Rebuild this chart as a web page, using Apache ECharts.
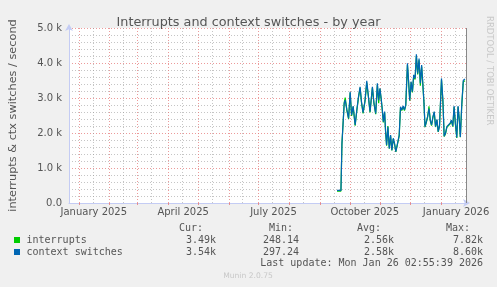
<!DOCTYPE html>
<html><head><meta charset="utf-8">
<script src="https://cdn.jsdelivr.net/npm/echarts@6/dist/echarts.min.js"></script>
<style>html,body{margin:0;padding:0;background:#F0F0F0;}#c{width:497px;height:287px;}</style>
</head><body><div id="c"></div>
<script>
// ---- data ----
const startDate = '2024-12-22';
const endDate = '2026-01-26';
const monthStarts = ['2025-01-01','2025-02-01','2025-03-01','2025-04-01','2025-05-01','2025-06-01','2025-07-01','2025-08-01','2025-09-01','2025-10-01','2025-11-01','2025-12-01','2026-01-01'];
const labelMonths = ['2025-01-01','2025-04-01','2025-07-01','2025-10-01','2026-01-01'];
const tickLabels = ['January 2025','April 2025','July 2025','October 2025','January 2026'];
const yMax = 5000;
const yStep = 1000;
// days since startDate
const days = [270,274,275,277.3,278.3,280,281.7,283.3,284.7,286.3,288.3,290,291.7,293.3,294.7,296.3,298.3,300,301.7,303.3,305.7,307.3,309,310.7,312,313.3,314.7,315.7,316.7,318,319,320,321.3,322.7,324,325.3,326.7,328,329.3,331.3,332.7,334,335.3,336.7,338,339.3,341,342.3,343.3,344.7,346,347.3,348.7,350,351.3,352.7,354,355.3,356.7,357.7,358.7,360,361.3,362.7,364,365.3,366.7,368,369.3,370.7,372,373.3,375.3,376.7,378,379.3,380.7,382.7,384,385.3,386.7,388,389.3,390.7,392,393.3,394.3,395.7,397.3,399];
const ctxSwitches = [360,360,1700,2850,2940,2660,2420,3180,2510,2770,2230,2660,3040,3320,2890,2580,2940,3490,3040,2610,3320,2850,2560,3420,2940,3280,2940,2660,2320,2610,2040,1660,2180,1560,1940,1510,1850,1700,1470,1470,1940,2750,2660,2770,2660,2800,3990,3420,2940,3470,3180,3660,3560,4250,3700,4130,3420,3940,3320,2850,2180,2320,2470,2700,2370,2230,2470,2610,2180,2390,2040,2200,3560,2940,1910,1990,2180,2230,2280,2370,2200,2770,2280,1870,2770,2370,1890,2800,3510,3540];
const interrupts = [340,340,1680,2870,3010,2640,2400,3150,2490,2750,2210,2640,3020,3290,2870,2560,2920,3440,3020,2590,3290,2830,2540,3380,2850,3260,2920,2640,2300,2590,2020,1640,2200,1550,1920,1500,1830,1690,1460,1460,1920,2730,2640,2750,2640,2780,3940,3400,2920,3440,3160,3620,3530,4200,3670,4080,3350,3900,3290,2830,2170,2300,2450,2760,2350,2210,2450,2590,2170,2370,2030,2190,3520,2920,1900,1970,2160,2210,2260,2350,2180,2740,2260,1860,2740,2350,1880,2770,3470,3490];
const seriesNames = ['interrupts','context switches'];
const seriesColors = ['#00CC00','#0066B3'];
const statHeaders = ['Cur:','Min:','Avg:','Max:'];
const curVals = ['3.49k','3.54k'];
const minVals = ['248.14','297.24'];
const avgVals = ['2.56k','2.58k'];
const maxVals = ['7.82k','8.60k'];
const lastUpdate = 'Last update: Mon Jan 26 02:55:39 2026';
const titleText = 'Interrupts and context switches - by year';
const yName = 'interrupts & ctx switches / second';
const watermark = 'RRDTOOL / TOBI OETIKER';
const footer = 'Munin 2.0.75';

// ---- build ----
const DAY = 86400000;
const t0 = Date.parse(startDate + 'T00:00:00Z');
const dayOf = s => (Date.parse(s + 'T00:00:00Z') - t0) / DAY;
const xMax = dayOf(endDate);
const labelPos = labelMonths.map(m => dayOf(m) + 15);
const monthPos = monthStarts.map(dayOf);
const midPos = monthStarts.map(m => dayOf(m) + 14).filter(d => d < xMax);

const FONT = '#555555';
const majorStyle = {color: 'rgba(230,120,120,0.75)', width: 1, type: [1, 2]};
const minorStyle = {color: 'rgba(150,150,150,0.55)', width: 1, type: [1, 2]};

const vLines = [];
midPos.forEach(d => vLines.push({xAxis: d, lineStyle: minorStyle}));
monthPos.forEach(d => vLines.push({xAxis: d, lineStyle: majorStyle}));
vLines.push({xAxis: xMax, lineStyle: {color: '#888888', width: 1, type: 'solid'}});

const mk = arr => days.map((d, i) => [d, arr[i]]);

const chart = echarts.init(document.getElementById('c'), null, {renderer: 'canvas'});

const colX = [216, 299, 394, 483];
const hdrX = [203, 293, 381, 470];
const rowY = [240, 252];
const mono = '10px "DejaVu Sans Mono"';
const graphics = [];
statHeaders.forEach((h, i) => graphics.push({type: 'text', x: hdrX[i], y: 228, style: {text: h, font: mono, fill: FONT, textAlign: 'right', textVerticalAlign: 'middle'}}));
const stats = [curVals, minVals, avgVals, maxVals];
seriesNames.forEach((n, r) => {
  graphics.push({type: 'rect', shape: {x: 14, y: rowY[r] - 3, width: 6, height: 6}, style: {fill: seriesColors[r]}});
  graphics.push({type: 'text', x: 26.5, y: rowY[r], style: {text: n, font: mono, fill: FONT, textAlign: 'left', textVerticalAlign: 'middle'}});
  stats.forEach((col, c) => graphics.push({type: 'text', x: colX[c], y: rowY[r], style: {text: col[r], font: mono, fill: FONT, textAlign: 'right', textVerticalAlign: 'middle'}}));
});
graphics.push({type: 'text', x: 483, y: 263.5, style: {text: lastUpdate, font: mono, fill: FONT, textAlign: 'right', textVerticalAlign: 'middle'}});
graphics.push({type: 'text', x: 248, y: 276, style: {text: footer, font: '7.6px "DejaVu Sans"', fill: '#C8C8C8', textAlign: 'center', textVerticalAlign: 'middle'}});
graphics.push({type: 'text', x: 489, y: 16, rotation: -Math.PI / 2, style: {text: watermark, font: '8.5px "DejaVu Sans"', fill: '#C8C8C8', textAlign: 'left', textVerticalAlign: 'middle'}});

const axisLineCfg = {show: true, lineStyle: {color: '#C4CCF4', width: 1}, symbol: ['none', 'arrow'], symbolSize: [6, 7], symbolOffset: [0, 4]};

chart.setOption({
  animation: false,
  backgroundColor: '#F0F0F0',
  title: {text: titleText, left: 'center', top: 11, textStyle: {fontFamily: 'DejaVu Sans', fontSize: 12.8, fontWeight: 'normal', color: FONT}},
  grid: {left: 66, right: 31, top: 28, bottom: 84, show: true, backgroundColor: '#FFFFFF', borderWidth: 0},
  xAxis: {
    type: 'value', min: 0, max: xMax,
    axisLine: axisLineCfg,
    axisTick: {show: true, customValues: monthPos, length: 2, lineStyle: {color: 'rgba(230,120,120,0.8)'}},
    axisLabel: {show: true, customValues: labelPos, margin: 4, color: FONT, fontFamily: 'DejaVu Sans', fontSize: 10,
      formatter: v => { const i = labelPos.findIndex(p => Math.abs(p - v) < 0.5); return i >= 0 ? tickLabels[i] : ''; }},
    splitLine: {show: false}
  },
  yAxis: {
    type: 'value', min: 0, max: yMax, interval: yStep,
    name: yName, nameLocation: 'middle', nameGap: 50, nameRotate: 90,
    nameTextStyle: {fontFamily: 'DejaVu Sans', fontSize: 11.3, color: FONT},
    axisLine: axisLineCfg,
    axisTick: {show: false},
    axisLabel: {margin: 7, color: FONT, fontFamily: 'DejaVu Sans', fontSize: 10,
      formatter: v => v === 0 ? '0.0' : (v / 1000).toFixed(1) + ' k'},
    splitLine: {show: true, lineStyle: majorStyle},
    minorTick: {show: false, splitNumber: 5},
    minorSplitLine: {show: true, lineStyle: minorStyle}
  },
  series: [
    {type: 'line', name: 'grid', data: [], z: 1, silent: true,
      markLine: {silent: true, symbol: ['none', 'none'], label: {show: false}, z: 1, animation: false, data: vLines}},
    {type: 'line', name: seriesNames[0], data: mk(interrupts), showSymbol: false, z: 3,
      lineStyle: {color: seriesColors[0], width: 1.2}, itemStyle: {color: seriesColors[0]}},
    {type: 'line', name: seriesNames[1], data: mk(ctxSwitches), showSymbol: false, z: 4,
      lineStyle: {color: seriesColors[1], width: 1.2}, itemStyle: {color: seriesColors[1]}}
  ],
  graphic: graphics
});
</script></body></html>
